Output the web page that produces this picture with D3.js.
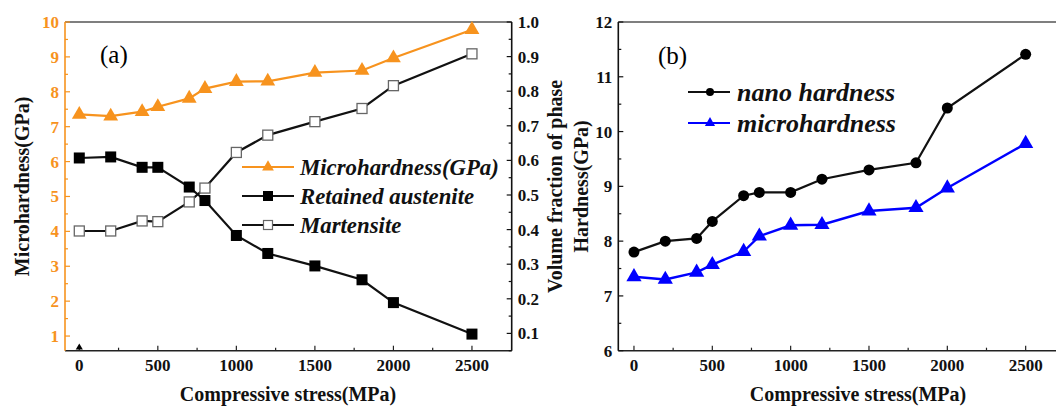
<!DOCTYPE html>
<html>
<head>
<meta charset="utf-8">
<script src="https://cdn.jsdelivr.net/npm/d3@7"></script>
<style>
  html, body { margin: 0; padding: 0; background: #fff; }
  svg { display: block; font-family: "Liberation Serif", "Times New Roman", serif; }
</style>
</head>
<body>
<svg id="chart" width="1056" height="406"></svg>
<script>
// ---- data ----
const stress = [0, 200, 400, 500, 700, 800, 1000, 1200, 1500, 1800, 2000, 2500];
const microhardness = [7.35, 7.3, 7.43, 7.57, 7.81, 8.09, 8.29, 8.3, 8.55, 8.61, 8.97, 9.78];
const retainedAustenite = [0.607, 0.61, 0.58, 0.58, 0.523, 0.484, 0.383, 0.331, 0.295, 0.255, 0.189, 0.098];
const martensite = [0.396, 0.396, 0.425, 0.423, 0.48, 0.52, 0.623, 0.673, 0.712, 0.75, 0.816, 0.908];
const nanoHardness = [7.8, 8.0, 8.05, 8.36, 8.83, 8.89, 8.89, 9.13, 9.3, 9.43, 10.43, 11.41];
const strayMark = [{ x: 0, y: 0.67 }];

const xTicks = [0, 500, 1000, 1500, 2000, 2500];
const leftTicksA = [1, 2, 3, 4, 5, 6, 7, 8, 9, 10];
const rightTicksA = [0.1, 0.2, 0.3, 0.4, 0.5, 0.6, 0.7, 0.8, 0.9, 1.0];
const leftTicksB = [6, 7, 8, 9, 10, 11, 12];

const orange = "#f7931e";
const blue = "#0000ff";

const svg = d3.select("#chart");

const tri = d3.symbol().type(d3.symbolTriangle);

function bottomAxis(g, x, y0, x0, x1) {
  g.append("line").attr("x1", x0).attr("x2", x1).attr("y1", y0).attr("y2", y0)
    .attr("stroke", "#222").attr("stroke-width", 1.6);
  const minor = d3.range(0, 2751, 250).filter((v) => x(v) < x1 - 1);
  g.selectAll(".mt").data(minor).enter().append("line")
    .attr("x1", (d) => x(d)).attr("x2", (d) => x(d))
    .attr("y1", y0).attr("y2", (d) => y0 - (d % 500 === 0 ? 5 : 3))
    .attr("stroke", "#222").attr("stroke-width", 1.2);
  g.selectAll(".xl").data(xTicks).enter().append("text")
    .attr("x", (d) => x(d)).attr("y", y0 + 20)
    .attr("text-anchor", "middle").attr("font-size", 17).attr("font-weight", "bold")
    .attr("fill", "#111").text((d) => d);
}

function vAxis(g, y, xPos, ticks, minorStep, dir, color, fmt) {
  // dir = 1 -> ticks to the right (left axis), -1 -> ticks to the left (right axis)
  g.append("line").attr("x1", xPos).attr("x2", xPos)
    .attr("y1", y.range()[0]).attr("y2", y.range()[1])
    .attr("stroke", color).attr("stroke-width", 1.6);
  const [d0, d1] = y.domain();
  const minor = d3.range(Math.ceil(d0 / minorStep) * minorStep, d1 + 1e-9, minorStep);
  g.selectAll(".mt").data(minor).enter().append("line")
    .attr("y1", (d) => y(d)).attr("y2", (d) => y(d))
    .attr("x1", xPos).attr("x2", (d) => {
      const major = ticks.some((t) => Math.abs(t - d) < 1e-6);
      return xPos + dir * (major ? 5 : 3);
    })
    .attr("stroke", color).attr("stroke-width", 1.2);
  g.selectAll(".yl").data(ticks).enter().append("text")
    .attr("x", xPos - dir * 6).attr("y", (d) => y(d)).attr("dy", "0.35em")
    .attr("text-anchor", dir === 1 ? "end" : "start")
    .attr("font-size", 17).attr("font-weight", "bold")
    .attr("fill", color).text(fmt);
}

function drawLine(g, x, y, values, color, width) {
  const line = d3.line().x((d, i) => x(stress[i])).y((d) => y(d));
  g.append("path").datum(values).attr("d", line)
    .attr("fill", "none").attr("stroke", color).attr("stroke-width", width);
}

// ================= panel (a) =================
const A = { left: 65, right: 511.7, top: 22, bottom: 350.7 };
const xa = d3.scaleLinear().domain([-91, 2753]).range([A.left, A.right]);
const yaL = d3.scaleLinear().domain([0.58, 10]).range([A.bottom, A.top]);
const yaR = d3.scaleLinear().domain([0.05, 1.0]).range([A.bottom, A.top]);

const ga = svg.append("g");
ga.append("line").attr("x1", A.left).attr("x2", A.right).attr("y1", A.top).attr("y2", A.top)
  .attr("stroke", "#555").attr("stroke-width", 1.6);
bottomAxis(ga, xa, A.bottom, A.left, A.right);
vAxis(ga, yaL, A.left, leftTicksA, 0.5, 1, orange, (d) => d);
vAxis(ga, yaR, A.right, rightTicksA, 0.05, -1, "#111", d3.format(".1f"));

// series
drawLine(ga, xa, yaR, retainedAustenite, "#111", 2.2);
drawLine(ga, xa, yaR, martensite, "#111", 2.2);
drawLine(ga, xa, yaL, microhardness, orange, 2.2);

ga.selectAll(".ra").data(retainedAustenite).enter().append("rect")
  .attr("x", (d, i) => xa(stress[i]) - 5.5).attr("y", (d) => yaR(d) - 5.5)
  .attr("width", 11).attr("height", 11).attr("fill", "#000");
ga.selectAll(".ma").data(martensite).enter().append("rect")
  .attr("x", (d, i) => xa(stress[i]) - 5).attr("y", (d) => yaR(d) - 5)
  .attr("width", 10).attr("height", 10).attr("fill", "#fff")
  .attr("stroke", "#666").attr("stroke-width", 1.3);
ga.selectAll(".mh").data(microhardness).enter().append("path")
  .attr("d", tri.size(95)())
  .attr("transform", (d, i) => `translate(${xa(stress[i])},${yaL(d)})`)
  .attr("fill", orange);
ga.selectAll(".stray").data(strayMark).enter().append("path")
  .attr("d", tri.size(22)())
  .attr("transform", (d) => `translate(${xa(d.x)},${yaL(d.y)})`)
  .attr("fill", "#000");

ga.append("text").attr("x", 100).attr("y", 63).attr("font-size", 25).text("(a)");

// legend (a)
const legA = [
  { label: "Microhardness(GPa)", color: orange, kind: "tri" },
  { label: "Retained austenite", color: "#111", kind: "sq" },
  { label: "Martensite", color: "#111", kind: "open" },
];
const la = ga.selectAll(".lega").data(legA).enter().append("g")
  .attr("transform", (d, i) => `translate(242,${167 + i * 29})`);
la.append("line").attr("x1", 0).attr("x2", 52).attr("stroke", (d) => d.color).attr("stroke-width", 2);
la.each(function (d) {
  const s = d3.select(this);
  if (d.kind === "tri") s.append("path").attr("d", tri.size(60)()).attr("transform", "translate(26,0)").attr("fill", orange);
  if (d.kind === "sq") s.append("rect").attr("x", 21).attr("y", -5).attr("width", 10).attr("height", 10).attr("fill", "#000");
  if (d.kind === "open") s.append("rect").attr("x", 21.5).attr("y", -4.5).attr("width", 9).attr("height", 9)
    .attr("fill", "#fff").attr("stroke", "#666").attr("stroke-width", 1.2);
});
la.append("text").attr("x", 58).attr("dy", "0.33em").attr("font-size", 22.8)
  .attr("font-weight", "bold").attr("font-style", "italic").attr("fill", "#111").text((d) => d.label);

// axis titles (a)
ga.append("text").attr("transform", `translate(29,${(A.top + A.bottom) / 2}) rotate(-90)`)
  .attr("text-anchor", "middle").attr("font-size", 20).attr("font-weight", "bold")
  .attr("fill", "#111").text("Microhardness(GPa)");
ga.append("text").attr("transform", `translate(562,${(A.top + A.bottom) / 2}) rotate(-90)`)
  .attr("text-anchor", "middle").attr("font-size", 20).attr("font-weight", "bold")
  .attr("fill", "#111").text("Volume fraction of phase");
ga.append("text").attr("x", 288).attr("y", 401).attr("text-anchor", "middle")
  .attr("font-size", 20).attr("font-weight", "bold").attr("fill", "#111")
  .text("Compressive stress(MPa)");

// ================= panel (b) =================
const B = { left: 618.3, right: 1057, top: 22, bottom: 350.7 };
const xb = d3.scaleLinear().domain([-100, 2700]).range([B.left, B.right]);
const yb = d3.scaleLinear().domain([6, 12]).range([B.bottom, B.top]);

const gb = svg.append("g");
gb.append("line").attr("x1", B.left).attr("x2", B.right).attr("y1", B.top).attr("y2", B.top)
  .attr("stroke", "#555").attr("stroke-width", 1.6);
bottomAxis(gb, xb, B.bottom, B.left, B.right);
vAxis(gb, yb, B.left, leftTicksB, 0.5, 1, "#111", (d) => d);

drawLine(gb, xb, yb, nanoHardness, "#111", 2.2);
drawLine(gb, xb, yb, microhardness, blue, 2.4);

gb.selectAll(".nh").data(nanoHardness).enter().append("circle")
  .attr("cx", (d, i) => xb(stress[i])).attr("cy", (d) => yb(d)).attr("r", 5.5).attr("fill", "#000");
gb.selectAll(".mhb").data(microhardness).enter().append("path")
  .attr("d", tri.size(100)())
  .attr("transform", (d, i) => `translate(${xb(stress[i])},${yb(d)})`)
  .attr("fill", blue);

gb.append("text").attr("x", 658).attr("y", 64).attr("font-size", 25).text("(b)");

const legB = [
  { label: "nano hardness", color: "#111", kind: "dot" },
  { label: "microhardness", color: blue, kind: "tri" },
];
const lb = gb.selectAll(".legb").data(legB).enter().append("g")
  .attr("transform", (d, i) => `translate(688,${92 + i * 31})`);
lb.append("line").attr("x1", 0).attr("x2", 42).attr("stroke", (d) => d.color).attr("stroke-width", 2);
lb.each(function (d) {
  const s = d3.select(this);
  if (d.kind === "dot") s.append("circle").attr("cx", 22).attr("r", 4).attr("fill", "#000");
  if (d.kind === "tri") s.append("path").attr("d", tri.size(45)()).attr("transform", "translate(22,0)").attr("fill", blue);
});
lb.append("text").attr("x", 49).attr("dy", "0.33em").attr("font-size", 26)
  .attr("font-weight", "bold").attr("font-style", "italic").attr("fill", "#111").text((d) => d.label);

gb.append("text").attr("transform", `translate(588,${(B.top + B.bottom) / 2}) rotate(-90)`)
  .attr("text-anchor", "middle").attr("font-size", 20).attr("font-weight", "bold")
  .attr("fill", "#111").text("Hardness(GPa)");
gb.append("text").attr("x", 858).attr("y", 401).attr("text-anchor", "middle")
  .attr("font-size", 20).attr("font-weight", "bold").attr("fill", "#111")
  .text("Compressive stress(MPa)");
</script>
</body>
</html>
